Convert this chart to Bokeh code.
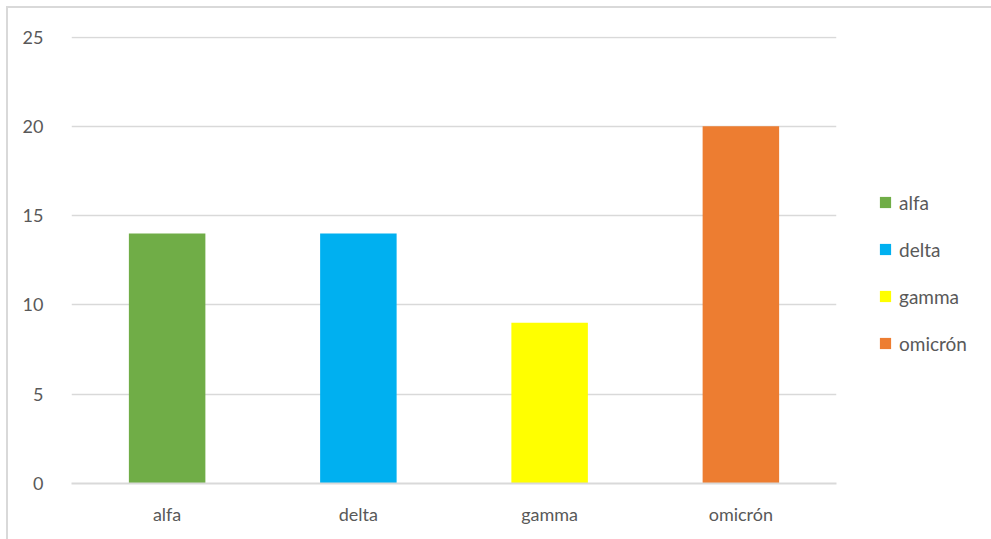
from bokeh.plotting import figure
from bokeh.models import Legend, LegendItem, FixedTicker, Range1d
from bokeh.embed import file_html
from bokeh.resources import INLINE

categories = ["alfa", "delta", "gamma", "omicrón"]
values = [14, 14, 9, 20]
colors = ["#70AD47", "#00B0F0", "#FFFF00", "#ED7D31"]
y_ticks = [0, 5, 10, 15, 20, 25]

FONT = "Lato"
TEXT = "#595959"
GRID = "#D9D9D9"

p = figure(x_range=categories, frame_width=765, frame_height=447,
           output_backend="svg", toolbar_location=None,
           min_border_left=63, min_border_right=0,
           min_border_top=28, min_border_bottom=56)
p.styles = {"margin-left": "6px", "margin-top": "6px",
            "border-left": f"2px solid {GRID}", "border-top": f"2px solid {GRID}",
            "box-sizing": "content-box"}
p.y_range = Range1d(0, 25.03)

renderers = []
for c, v, col in zip(categories, values, colors):
    r = p.vbar(x=[c], top=[v], width=0.4, color=col, line_color=None)
    renderers.append((c, r))

p.outline_line_color = None
p.background_fill_color = "white"
p.border_fill_color = "white"

p.xgrid.grid_line_color = None
p.ygrid.grid_line_color = GRID
p.ygrid.grid_line_width = 1.5

p.yaxis.ticker = FixedTicker(ticks=y_ticks)
p.yaxis.axis_line_color = None
p.yaxis.major_tick_line_color = None
p.yaxis.minor_tick_line_color = None
p.yaxis.major_label_standoff = 22
p.yaxis.major_label_text_font = FONT
p.yaxis.major_label_text_font_size = "18px"
p.yaxis.major_label_text_color = TEXT

p.xaxis.axis_line_color = GRID
p.xaxis.axis_line_width = 2
p.xaxis.major_tick_line_color = None
p.xaxis.minor_tick_line_color = None
p.xaxis.major_label_standoff = 13
p.xaxis.major_label_text_font = FONT
p.xaxis.major_label_text_font_size = "18px"
p.xaxis.major_label_text_color = TEXT

p.x_range.range_padding = 0

legend = Legend(items=[LegendItem(label=c, renderers=[r]) for c, r in renderers],
                location="left", border_line_color=None, background_fill_alpha=0,
                label_text_font=FONT, label_text_font_size="19px",
                label_text_color=TEXT, glyph_width=14, glyph_height=14,
                label_height=20, spacing=24, label_standoff=7,
                title=" ", title_text_font_size="22px", title_standoff=0,
                padding=0, margin=42)
p.add_layout(legend, "right")

open("out.html", "w").write(file_html(p, INLINE))
